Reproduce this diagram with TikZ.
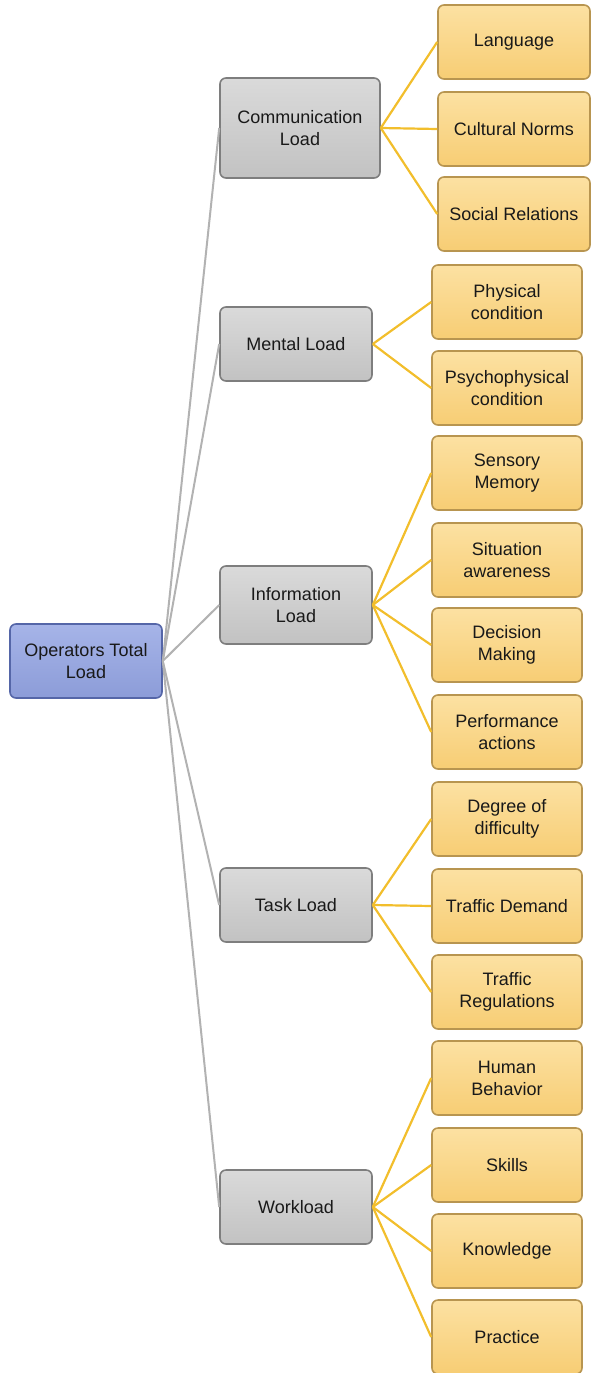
\documentclass[tikz,border=0pt]{standalone}
\usepackage{fontspec}
\setmainfont{Liberation Sans}
\definecolor{bluetop}{HTML}{A6B4E8}
\definecolor{bluebot}{HTML}{8C9CD8}
\definecolor{blueedge}{HTML}{5566A8}
\definecolor{graytop}{HTML}{DADADA}
\definecolor{graybot}{HTML}{C2C2C2}
\definecolor{grayedge}{HTML}{7E7E7E}
\definecolor{ortop}{HTML}{FCE1A2}
\definecolor{orbot}{HTML}{F7CD74}
\definecolor{oredge}{HTML}{B89550}
\definecolor{orline}{HTML}{F2BE2C}
\definecolor{grline}{HTML}{B2B2B2}
\tikzset{
  base/.style={rounded corners=6pt, line width=1.6pt, align=center, font=\fontsize{18}{22}\selectfont, text=black!90, inner sep=2pt},
  rootbox/.style={base, draw=blueedge, top color=bluetop, bottom color=bluebot, minimum width=152pt, minimum height=74pt},
  midbox/.style={base, draw=grayedge, top color=graytop, bottom color=graybot, minimum width=152pt, minimum height=74pt},
  leafbox/.style={base, draw=oredge, top color=ortop, bottom color=orbot, minimum width=150pt, minimum height=74pt},
  grconn/.style={draw=grline, line width=2pt},
  orconn/.style={draw=orline, line width=2.2pt}
}
\begin{document}
\begin{tikzpicture}[x=1pt,y=-1pt]
\useasboundingbox (0,0) rectangle (592,1373);
% root
\node[rootbox] (root) at (86,661) {Operators Total\\Load};
% mid level
\node[midbox, minimum width=160pt, minimum height=100pt] (comm) at (300,128) {Communication\\Load};
\node[midbox] (ment) at (296,344) {Mental Load};
\node[midbox, minimum height=78pt] (info) at (296,605) {Information\\Load};
\node[midbox] (task) at (296,905) {Task Load};
\node[midbox] (work) at (296,1207) {Workload};
% leaves
\node[leafbox, minimum width=152pt] (lang) at (514,42) {Language};
\node[leafbox, minimum width=152pt] (cult) at (514,129) {Cultural Norms};
\node[leafbox, minimum width=152pt] (soc) at (514,214) {Social Relations};
\node[leafbox] (phys) at (507,302) {Physical\\condition};
\node[leafbox] (psy) at (507,388) {Psychophysical\\condition};
\node[leafbox] (sens) at (507,473) {Sensory\\Memory};
\node[leafbox] (sit) at (507,560) {Situation\\awareness};
\node[leafbox] (dec) at (507,645) {Decision\\Making};
\node[leafbox] (perf) at (507,732) {Performance\\actions};
\node[leafbox] (deg) at (507,819) {Degree of\\difficulty};
\node[leafbox] (traf) at (507,906) {Traffic Demand};
\node[leafbox] (reg) at (507,992) {Traffic\\Regulations};
\node[leafbox] (hum) at (507,1078) {Human\\Behavior};
\node[leafbox] (ski) at (507,1165) {Skills};
\node[leafbox] (kno) at (507,1251) {Knowledge};
\node[leafbox] (pra) at (507,1337) {Practice};
% connectors
\foreach \n in {comm,ment,info,task,work}
  \draw[grconn] (root.east) -- (\n.west);
\foreach \n in {lang,cult,soc}
  \draw[orconn] (comm.east) -- (\n.west);
\foreach \n in {phys,psy}
  \draw[orconn] (ment.east) -- (\n.west);
\foreach \n in {sens,sit,dec,perf}
  \draw[orconn] (info.east) -- (\n.west);
\foreach \n in {deg,traf,reg}
  \draw[orconn] (task.east) -- (\n.west);
\foreach \n in {hum,ski,kno,pra}
  \draw[orconn] (work.east) -- (\n.west);
\end{tikzpicture}
\end{document}
